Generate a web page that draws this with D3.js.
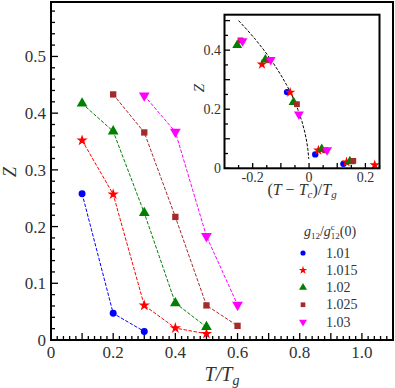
<!DOCTYPE html>
<html>
<head>
<meta charset="utf-8">
<script src="https://cdn.jsdelivr.net/npm/d3@7"></script>
<style>
  body { margin: 0; background: #fff; }
  svg text { font-family: "Liberation Serif", "Times New Roman", serif; }
</style>
</head>
<body>
<svg id="chart" width="395" height="388"></svg>
<script>
// T/Tg values and order parameter Z for each g12/g12c(0) ratio
const seriesNames = ['1.01', '1.015', '1.02', '1.025', '1.03'];
const seriesColors = ['#0000ff', '#ff0000', '#008000', '#a52a2a', '#ff00ff'];
const tBlue = [0.1, 0.2, 0.3];
const zBlue = [0.258, 0.047, 0.015];
const tRed = [0.1, 0.2, 0.3, 0.4, 0.5];
const zRed = [0.352, 0.257, 0.061, 0.021, 0.011];
const tGreen = [0.1, 0.2, 0.3, 0.4, 0.5];
const zGreen = [0.417, 0.368, 0.224, 0.065, 0.023];
const tBrown = [0.2, 0.3, 0.4, 0.5, 0.6];
const zBrown = [0.433, 0.366, 0.217, 0.061, 0.025];
const tMagenta = [0.3, 0.4, 0.5, 0.6];
const zMagenta = [0.431, 0.367, 0.183, 0.062];
// critical temperature Tc/Tg of each series (used for the inset)
const tcValues = [0.178, 0.267, 0.355, 0.443, 0.536];
// dashed guide curve in the inset
const curveX = [-0.25, -0.22, -0.19, -0.16, -0.13, -0.1, -0.08, -0.06, -0.04, -0.025, -0.015, -0.008, -0.004, -0.001];
const curveZ = [0.5, 0.469, 0.436, 0.4, 0.361, 0.316, 0.283, 0.245, 0.2, 0.158, 0.122, 0.089, 0.063, 0.032];

const xTickLabels = [0, 0.2, 0.4, 0.6, 0.8, 1.0];
const yTickLabels = [0, 0.1, 0.2, 0.3, 0.4, 0.5];
const insetXTickLabels = [-0.2, 0, 0.2];
const insetYTickLabels = [0, 0.2, 0.4];

const seriesT = [tBlue, tRed, tGreen, tBrown, tMagenta];
const seriesZ = [zBlue, zRed, zGreen, zBrown, zMagenta];
const symbols = ['circle', 'star', 'up', 'square', 'down'];

const series = seriesNames.map((name, i) => ({
    name: name,
    color: seriesColors[i],
    symbol: symbols[i],
    tc: tcValues[i],
    points: seriesT[i].map((t, j) => ({t: t, z: seriesZ[i][j]}))
}));

const svg = d3.select('#chart');
const textColor = '#333';

function markerPath(sym, scale) {
    const s = scale || 1;
    switch (sym) {
        case 'circle': return d3.symbol(d3.symbolCircle, 38 * s)();
        case 'star': return d3.symbol(d3.symbolStar, 40 * s)();
        case 'up': return d3.symbol(d3.symbolTriangle, 50 * s)();
        case 'down': return d3.symbol(d3.symbolTriangle, 50 * s)();
        case 'square': return d3.symbol(d3.symbolSquare, 40 * s)();
    }
}
function markerTransform(sym, x, y) {
    return sym === 'down' ? `translate(${x},${y}) rotate(180)` : `translate(${x},${y})`;
}

// ---------- main axes ----------
const x = d3.scaleLinear().domain([0, 1.1]).range([51, 393]);
const y = d3.scaleLinear().domain([0, 0.596]).range([340, 2]);

const main = svg.append('g');

// ticks pointing inwards
const xMinor = d3.range(0, 1.1001, 0.02);
main.selectAll('line.xminor')
    .data(xMinor)
    .enter()
    .append('line')
    .attr('x1', d => x(d)).attr('x2', d => x(d))
    .attr('y1', 340)
    .attr('y2', d => Math.abs(d * 10 - Math.round(d * 10)) < 1e-6 ? 333 : 336)
    .attr('stroke', '#000').attr('stroke-width', 1.3);

const yMinor = d3.range(0, 0.5901, 0.02);
main.selectAll('line.yminor')
    .data(yMinor)
    .enter()
    .append('line')
    .attr('y1', d => y(d)).attr('y2', d => y(d))
    .attr('x1', 51)
    .attr('x2', d => Math.abs(d * 10 - Math.round(d * 10)) < 1e-6 ? 58 : 55)
    .attr('stroke', '#000').attr('stroke-width', 1.3);

main.selectAll('text.xlab')
    .data(xTickLabels)
    .enter()
    .append('text')
    .attr('x', d => x(d))
    .attr('y', 358)
    .attr('text-anchor', 'middle')
    .attr('font-size', 17)
    .attr('fill', textColor)
    .text(d => d === 0 ? '0' : d.toFixed(1));

main.selectAll('text.ylab')
    .data(yTickLabels)
    .enter()
    .append('text')
    .attr('x', 46)
    .attr('y', d => y(d) + 6)
    .attr('text-anchor', 'end')
    .attr('font-size', 17)
    .attr('fill', textColor)
    .text(d => d === 0 ? '0' : d.toFixed(1));

main.append('text')
    .attr('x', 222)
    .attr('y', 381)
    .attr('text-anchor', 'middle')
    .attr('font-size', 20)
    .attr('font-style', 'italic')
    .attr('fill', textColor)
    .html('T/T<tspan font-size="14" dy="4">g</tspan>');

main.append('text')
    .attr('transform', 'translate(16,172) rotate(-90)')
    .attr('text-anchor', 'middle')
    .attr('font-size', 18)
    .attr('font-style', 'italic')
    .attr('fill', textColor)
    .text('Z');

const line = d3.line().x(d => x(d.t)).y(d => y(d.z));

series.forEach(s => {
    main.append('path')
        .datum(s.points)
        .attr('d', line)
        .attr('fill', 'none')
        .attr('stroke', s.color)
        .attr('stroke-width', 1)
        .attr('stroke-dasharray', '3.5,1.6');
    main.selectAll(null)
        .data(s.points)
        .enter()
        .append('path')
        .attr('d', markerPath(s.symbol))
        .attr('transform', d => markerTransform(s.symbol, x(d.t), y(d.z)))
        .attr('fill', s.color);
});

main.append('rect')
    .attr('x', 51).attr('y', 2)
    .attr('width', 342).attr('height', 338)
    .attr('fill', 'none')
    .attr('stroke', '#000')
    .attr('stroke-width', 2);

// ---------- legend ----------
const legend = svg.append('g');
legend.append('text')
    .attr('x', 330)
    .attr('y', 236)
    .attr('text-anchor', 'middle')
    .attr('font-size', 14)
    .attr('fill', textColor)
    .html('<tspan font-style="italic">g</tspan><tspan font-size="9" dy="3">12</tspan><tspan dy="-3">/</tspan><tspan font-style="italic">g</tspan><tspan font-size="9" dy="-6">c</tspan><tspan font-size="9" dx="-4" dy="9">12</tspan><tspan dy="-3">(0)</tspan>');

const legendY = d3.scalePoint().domain(seriesNames).range([253, 322]);
series.forEach(s => {
    legend.append('path')
        .attr('d', markerPath(s.symbol, 0.55))
        .attr('transform', markerTransform(s.symbol, 303, legendY(s.name)))
        .attr('fill', s.color);
    legend.append('text')
        .attr('x', 326)
        .attr('y', legendY(s.name) + 4.5)
        .attr('font-size', 14)
        .attr('fill', textColor)
        .text(s.name);
});

// ---------- inset ----------
const ix = d3.scaleLinear().domain([-0.3, 0.25]).range([224.5, 379.5]);
const iy = d3.scaleLinear().domain([0, 0.52]).range([168.3, 14.7]);
const inset = svg.append('g');

inset.append('rect')
    .attr('x', 224.5).attr('y', 14.7)
    .attr('width', 155).attr('height', 153.6)
    .attr('fill', '#fff');

const ixTicks = d3.range(-0.25, 0.2501, 0.05);
inset.selectAll('line.ixt')
    .data(ixTicks)
    .enter()
    .append('line')
    .attr('x1', d => ix(d)).attr('x2', d => ix(d))
    .attr('y1', 168.3)
    .attr('y2', d => Math.abs(d * 10 - Math.round(d * 10)) < 1e-6 ? 163 : 165)
    .attr('stroke', '#000').attr('stroke-width', 1.3);

const iyTicks = d3.range(0, 0.5001, 0.05);
inset.selectAll('line.iyt')
    .data(iyTicks)
    .enter()
    .append('line')
    .attr('y1', d => iy(d)).attr('y2', d => iy(d))
    .attr('x1', 224.5)
    .attr('x2', d => Math.abs(d * 10 - Math.round(d * 10)) < 1e-6 ? 230 : 228)
    .attr('stroke', '#000').attr('stroke-width', 1.3);

inset.selectAll('text.ixl')
    .data(insetXTickLabels)
    .enter()
    .append('text')
    .attr('x', d => ix(d))
    .attr('y', 182)
    .attr('text-anchor', 'middle')
    .attr('font-size', 14)
    .attr('fill', textColor)
    .text(d => d === 0 ? '0' : d.toFixed(1));

inset.selectAll('text.iyl')
    .data(insetYTickLabels)
    .enter()
    .append('text')
    .attr('x', 221)
    .attr('y', d => iy(d) + 5)
    .attr('text-anchor', 'end')
    .attr('font-size', 14)
    .attr('fill', textColor)
    .text(d => d === 0 ? '0' : d.toFixed(1));

inset.append('text')
    .attr('x', 302)
    .attr('y', 195)
    .attr('text-anchor', 'middle')
    .attr('font-size', 16)
    .attr('fill', textColor)
    .html('(<tspan font-style="italic">T</tspan> − <tspan font-style="italic">T</tspan><tspan font-size="11" font-style="italic" dy="3">c</tspan><tspan dy="-3">)/</tspan><tspan font-style="italic">T</tspan><tspan font-size="11" font-style="italic" dy="3">g</tspan>');

inset.append('text')
    .attr('transform', 'translate(204,88) rotate(-90)')
    .attr('text-anchor', 'middle')
    .attr('font-size', 15)
    .attr('font-style', 'italic')
    .attr('fill', textColor)
    .text('Z');

const curveLine = d3.line().x(d => ix(d[0])).y(d => iy(d[1]));
inset.append('path')
    .datum(curveX.map((v, i) => [v, curveZ[i]]))
    .attr('d', curveLine)
    .attr('fill', 'none')
    .attr('stroke', '#000')
    .attr('stroke-width', 1)
    .attr('stroke-dasharray', '3,1.6');

series.forEach(s => {
    inset.selectAll(null)
        .data(s.points)
        .enter()
        .append('path')
        .attr('d', markerPath(s.symbol, 0.85))
        .attr('transform', d => markerTransform(s.symbol, ix(d.t - s.tc), iy(d.z)))
        .attr('fill', s.color);
});

inset.append('rect')
    .attr('x', 224.5).attr('y', 14.7)
    .attr('width', 155).attr('height', 153.6)
    .attr('fill', 'none')
    .attr('stroke', '#000')
    .attr('stroke-width', 2);
</script>
</body>
</html>
